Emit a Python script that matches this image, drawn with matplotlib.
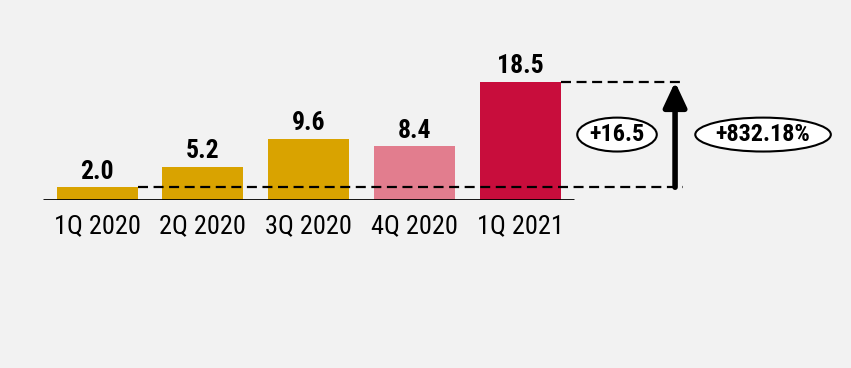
#!/usr/bin/env python3
"""Quarterly bar chart with growth callout (1Q 2020 -> 1Q 2021)."""

import matplotlib.pyplot as plt

QUARTERS = ["1Q 2020", "2Q 2020", "3Q 2020", "4Q 2020", "1Q 2021"]
VALUES = [2.0, 5.2, 9.6, 8.4, 18.5]
BAR_COLORS = ["#D9A300", "#D9A300", "#D9A300", "#E27D8E", "#C80D3C"]

ABS_CHANGE_LABEL = "+16.5"
PCT_CHANGE_LABEL = "+832.18%"

BG = "#F2F2F2"
FONT = ["Roboto Condensed", "Liberation Sans", "DejaVu Sans"]


def main() -> None:
    plt.rcParams["font.family"] = FONT

    fig = plt.figure(figsize=(8.51, 3.68), dpi=100, facecolor=BG)
    # axes starts at the baseline; x unit = one bar slot
    ax = fig.add_axes([43 / 851, 168 / 368, 800 / 851, 180 / 368])
    ax.set_facecolor(BG)
    ax.set_xlim(-0.511, 7.054)
    ax.set_ylim(0, 28.2)

    bar_width = 0.766
    x = list(range(len(QUARTERS)))
    bars = ax.bar(x, VALUES, width=bar_width, color=BAR_COLORS, zorder=2)

    for bar, value in zip(bars, VALUES):
        ax.annotate(
            f"{value:.1f}",
            (bar.get_x() + bar.get_width() / 2, value),
            xytext=(0, 6.2),
            textcoords="offset points",
            ha="center",
            va="baseline",
            fontsize=18.5,
            fontweight="bold",
        )

    # baseline under the bars
    ax.plot([-0.511, len(QUARTERS) - 0.489], [0, 0], color="black", lw=2,
            solid_capstyle="butt", zorder=3)

    first, last = VALUES[0], VALUES[-1]
    arrow_x = 5.466
    dash = dict(color="black", lw=1.6, ls=(0, (4.5, 2.5)), zorder=4)
    ax.plot([bar_width / 2, arrow_x + 0.075], [first, first], **dash)
    ax.plot([len(VALUES) - 1 + bar_width / 2, arrow_x + 0.075], [last, last], **dash)

    ax.annotate(
        "",
        xy=(arrow_x, last),
        xytext=(arrow_x, first),
        arrowprops=dict(arrowstyle="-|>,head_length=0.75,head_width=0.35",
                        lw=4, color="black", shrinkA=0, shrinkB=0,
                        mutation_scale=20),
        zorder=5,
    )

    mid = (first + last) / 2
    ellipse = dict(boxstyle="ellipse,pad=0.02", fc="white", ec="black", lw=1.5)
    ax.text(4.917, mid, ABS_CHANGE_LABEL, ha="center", va="center",
            fontsize=17.5, fontweight="bold", bbox=ellipse, zorder=6)
    ax.text(6.298, mid, PCT_CHANGE_LABEL, ha="center", va="center",
            fontsize=17.5, fontweight="bold", bbox=ellipse, zorder=6)

    ax.set_xticks(x, QUARTERS)
    ax.tick_params(axis="x", length=0, pad=10, labelsize=19)
    ax.set_yticks([])
    for spine in ax.spines.values():
        spine.set_visible(False)

    fig.savefig("out.png", facecolor=BG)
    plt.close(fig)


if __name__ == "__main__":
    main()
